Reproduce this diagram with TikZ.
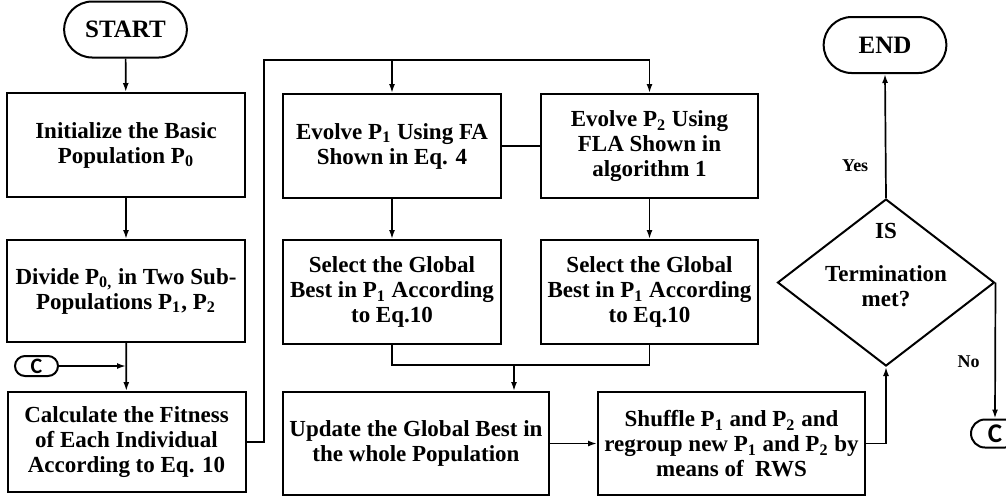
\documentclass[tikz,border=0pt]{standalone}
\usepackage{fontspec}
\setmainfont{Liberation Serif}
\newfontfamily\cfont{Carlito}
\usetikzlibrary{arrows, arrows.meta, positioning, shapes.geometric, shapes.misc}
\newcommand{\Psub}[1]{P\textsubscript{#1}}

\begin{document}
\begin{tikzpicture}[->,>={Latex[length=4.5pt,width=3pt]},x=0.5pt,y=-0.5pt,line width=0.85pt,
    block/.style={draw,rectangle,line width=1pt,align=center,inner sep=2pt,
      font=\fontsize{11.5}{12.5}\selectfont\bfseries},
    term/.style={draw,rounded rectangle,line width=1pt,minimum width=68pt,
      minimum height=28pt,font=\fontsize{12.5}{14}\selectfont\bfseries},
    conn/.style={draw,rounded rectangle,line width=1pt,inner sep=0pt,
      font=\cfont\bfseries},
    decision/.style={draw,diamond,line width=1pt,inner sep=0pt,
      minimum width=108.5pt,minimum height=83.5pt},
    tag/.style={font=\fontsize{9}{10}\selectfont\bfseries}]
  \useasboundingbox (0,0) rectangle (1006,500);
  % left column
  \node[term] (start) at (125.5,29.5) {START};
  \node[block, minimum width=119pt, minimum height=52pt] (init) at (126,145)
    {Initialize the Basic\\Population \Psub{0}};
  \node[block, minimum width=119pt, minimum height=51pt] (div) at (126,291)
    {Divide \Psub{0,} in Two Sub-\\Populations \Psub{1}, \Psub{2}};
  \node[block, minimum width=119pt, minimum height=50pt] (calc) at (126.5,442)
    {Calculate the Fitness\\of Each Individual\\According to Eq. 10};
  \node[conn, minimum width=21.5pt, minimum height=10pt, font=\cfont\bfseries\fontsize{11}{11}\selectfont] (c1) at (36.5,366) {C};
  % middle columns
  \node[block, minimum width=109pt, minimum height=52pt] (evo1) at (392,146)
    {Evolve \Psub{1} Using FA\\Shown in Eq. 4};
  \node[block, minimum width=108.5pt, minimum height=52pt] (evo2) at (649.5,146)
    {Evolve \Psub{2} Using\\FLA Shown in\\algorithm 1};
  \node[block, minimum width=109pt, minimum height=52pt] (sel1) at (392,292)
    {Select the Global\\Best in \Psub{1} According\\to Eq.10};
  \node[block, minimum width=108.5pt, minimum height=52pt] (sel2) at (649.5,292)
    {Select the Global\\Best in \Psub{1} According\\to Eq.10};
  \node[block, minimum width=133pt, minimum height=51.5pt] (upd) at (416,443.5)
    {Update the Global Best in\\the whole Population};
  \node[block, minimum width=133.5pt, minimum height=51.5pt] (shuf) at (731.5,443.5)
    {Shuffle \Psub{1} and \Psub{2} and\\regroup new \Psub{1} and \Psub{2} by\\means of \ RWS};
  % right column
  \node[decision] (cond) at (886,282.5) {};
  \node[align=center, font=\fontsize{11.5}{12.5}\selectfont\bfseries] (condtxt) at (886,265)
    {IS\\[9pt]Termination\\met?};
  \node[term] (end) at (885,45) {END};
  \node[conn, minimum width=24pt, minimum height=14pt, font=\cfont\bfseries\fontsize{13.5}{13.5}\selectfont] (c2) at (995,433.5) {C};
  \coordinate (loop) at (264,60);
  \coordinate (join) at (514,365);

  \draw (start) -- (init);
  \draw (init) -- (div);
  \draw (div) -- (calc);
  \draw (c1) -- (c1 -| div.south);
  \draw[-] (calc.east) -| (loop) -- (loop -| evo2.north);
  \draw (loop -| evo1.north) -- (evo1.north);
  \draw (loop -| evo2.north) -- (evo2.north);
  \draw[-] (evo1) -- (evo2);
  \draw (evo1) -- (sel1);
  \draw (evo2) -- (sel2);
  \draw[-] (sel1.south) |- (join) -| (sel2.south);
  \draw (join) -- (join |- upd.north);
  \draw (upd) -- (shuf);
  \draw (shuf.east) -| (cond.south);
  \draw (cond.north) -- node[tag, left=5pt, pos=0.26] (yes) {Yes} (end.south);
  \draw (cond.east) -- node[tag, left=4pt, pos=0.58] (no) {No} (c2.north);
\end{tikzpicture}
\end{document}
